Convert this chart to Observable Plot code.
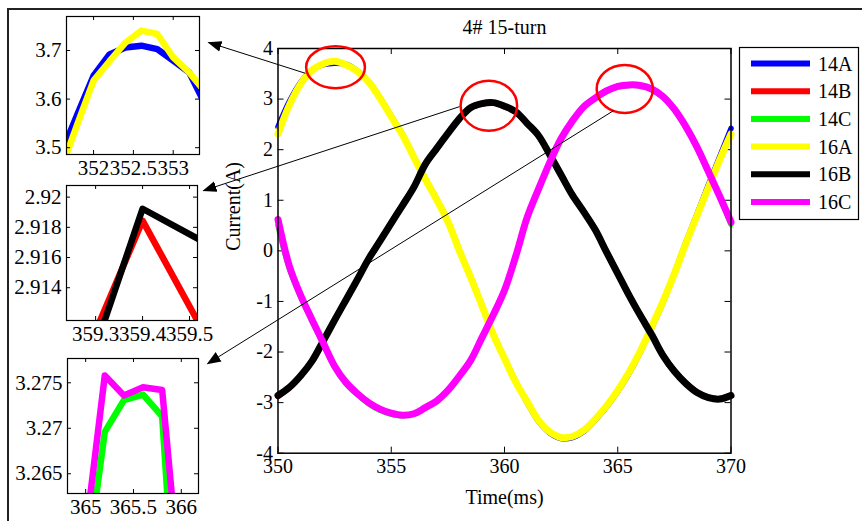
<!DOCTYPE html>
<html><head><meta charset="utf-8">
<script src="https://cdn.jsdelivr.net/npm/d3@7"></script>
<script src="https://cdn.jsdelivr.net/npm/@observablehq/plot@0.6"></script>
<style>
html,body{margin:0;padding:0;background:#fff;}
#fig{position:relative;width:862px;height:521px;overflow:hidden;font-family:"Liberation Serif",serif;}
#fig > svg{position:absolute;}
</style></head><body><div id="fig"></div>
<script>
// ---------- main chart data ----------
const time = [350,350.5,351,351.5,352,352.5,353,353.5,354,354.5,355,355.5,356,356.5,357,357.5,358,358.5,359,359.5,360,360.5,361,361.5,362,362.5,363,363.5,364,364.5,365,365.5,366,366.5,367,367.5,368,368.5,369,369.5,370];
const s14A = [2.45,2.95,3.33,3.58,3.68,3.71,3.69,3.56,3.35,3.03,2.66,2.30,1.86,1.43,1.03,0.59,0.02,-0.51,-1.07,-1.64,-2.12,-2.59,-3.00,-3.37,-3.60,-3.71,-3.69,-3.57,-3.35,-3.09,-2.78,-2.42,-2.00,-1.52,-1.02,-0.44,0.16,0.73,1.30,1.86,2.42];
const s14B = [-2.88,-2.71,-2.48,-2.17,-1.77,-1.36,-0.96,-0.56,-0.15,0.20,0.56,0.91,1.27,1.70,2.01,2.32,2.60,2.82,2.90,2.92,2.85,2.74,2.51,2.27,1.91,1.51,1.11,0.78,0.43,-0.01,-0.44,-0.87,-1.27,-1.65,-2.06,-2.37,-2.61,-2.79,-2.89,-2.92,-2.85];
const s14C = [0.50,-0.35,-0.90,-1.38,-1.84,-2.30,-2.62,-2.84,-3.02,-3.15,-3.23,-3.26,-3.23,-3.11,-2.98,-2.77,-2.49,-2.18,-1.73,-1.28,-0.79,-0.12,0.64,1.21,1.74,2.21,2.56,2.84,3.01,3.15,3.24,3.27,3.26,3.19,3.04,2.79,2.45,2.04,1.56,1.07,0.52];
const s16A = [2.31,2.88,3.30,3.57,3.70,3.75,3.68,3.55,3.34,3.02,2.65,2.29,1.85,1.42,1.02,0.58,0.01,-0.52,-1.08,-1.65,-2.13,-2.60,-2.98,-3.35,-3.58,-3.69,-3.67,-3.55,-3.33,-3.07,-2.76,-2.40,-1.98,-1.50,-1.00,-0.45,0.14,0.70,1.25,1.80,2.31];
const s16B = [-2.86,-2.70,-2.47,-2.18,-1.78,-1.37,-0.97,-0.57,-0.16,0.19,0.55,0.90,1.26,1.71,2.02,2.32,2.61,2.83,2.91,2.93,2.86,2.75,2.52,2.28,1.90,1.50,1.10,0.77,0.42,-0.02,-0.45,-0.88,-1.28,-1.66,-2.07,-2.38,-2.62,-2.80,-2.90,-2.93,-2.86];
const s16C = [0.62,-0.30,-0.88,-1.36,-1.82,-2.28,-2.60,-2.82,-3.00,-3.13,-3.21,-3.25,-3.22,-3.10,-2.97,-2.76,-2.48,-2.17,-1.72,-1.27,-0.78,-0.10,0.66,1.22,1.75,2.22,2.57,2.85,3.02,3.16,3.25,3.28,3.27,3.20,3.05,2.80,2.46,2.05,1.57,1.08,0.57];
const seriesNames = ["14A","14B","14C","16A","16B","16C"];
const seriesColors = ["#0000ff","#ff0000","#00ff00","#ffff00","#000000","#ff00ff"];
const mainValues = [s14A,s14B,s14C,s16A,s16B,s16C];
const xTicks = [350,355,360,365,370];
const yTicks = [-4,-3,-2,-1,0,1,2,3,4];
const titleText = "4# 15-turn";
const xLabel = "Time(ms)";
const yLabel = "Current(A)";

// ---------- inset data ----------
const in1Time = [351.6,351.8,352.0,352.2,352.4,352.6,352.8,353.0,353.2,353.4];
const in1_14A = [3.49,3.57,3.648,3.692,3.706,3.71,3.703,3.679,3.655,3.59];
const in1_16A = [3.46,3.55,3.638,3.678,3.716,3.741,3.734,3.686,3.655,3.615];
const in1XTicks = [352,352.5,353];
const in1YTicks = [3.5,3.6,3.7];

const in2Time = [359.2,359.4,359.6];
const in2_14B = [2.9038,2.91844,2.9071];
const in2_16B = [2.9009,2.91923,2.91586];
const in2XTicks = [359.3,359.4,359.5];
const in2YTicks = [2.914,2.916,2.918,2.92];

const in3Time = [365.0,365.2,365.4,365.6,365.8,366.0];
const in3_14C = [3.2540,3.2696,3.2731,3.2737,3.2713,3.2393];
const in3_16C = [3.2585,3.2758,3.2736,3.2745,3.2742,3.2515];
const in3XTicks = [365,365.5,366];
const in3YTicks = [3.265,3.27,3.275];

// ---------- annotations (data coordinates of the main chart) ----------
const circleX = [352.54,359.31,365.31];
const circleY = [3.63,2.87,3.20];
const arrowFromX = [351.21,358.01,364.81];
const arrowFromY = [3.51,2.85,2.77];
const arrowToX = [346.93,346.71,346.89];
const arrowToY = [4.12,1.19,-2.23];

// ---------- layout ----------
const W = 862, H = 521;
const M = {left: 277.5, top: 48, right: 131.5, bottom: 68.3};
const innerW = W - M.left - M.right, innerH = H - M.top - M.bottom;
const TK = 6;
const FONT = "Liberation Serif";
const fmt = d => String(+(+d).toFixed(4));

const rows = seriesNames.flatMap((name, i) => time.map((t, j) => ({name, t, v: mainValues[i][j]})));
const thinRows = rows.filter(d => d.name.startsWith("14"));
const thickRows = rows.filter(d => d.name.startsWith("16"));

const ellipseSymbol = (aspect) => ({draw(ctx, size) {
  const ry = Math.sqrt(size / Math.PI), rx = ry * aspect, k = 0.5523;
  ctx.moveTo(rx, 0);
  ctx.bezierCurveTo(rx, k*ry, k*rx, ry, 0, ry);
  ctx.bezierCurveTo(-k*rx, ry, -rx, k*ry, -rx, 0);
  ctx.bezierCurveTo(-rx, -k*ry, -k*rx, -ry, 0, -ry);
  ctx.bezierCurveTo(k*rx, -ry, rx, -k*ry, rx, 0);
  ctx.closePath();
}});
const circleRy = [21, 25, 24];
const circleAspect = [1.4, 1.13, 1.17];
const circles = circleX.map((x, i) => ({x, y: circleY[i], i}));
const arrows = arrowFromX.map((x, i) => ({x1: x, y1: arrowFromY[i], x2: arrowToX[i], y2: arrowToY[i]}));

const main = Plot.plot({
  width: W, height: H,
  marginLeft: M.left, marginTop: M.top, marginRight: M.right, marginBottom: M.bottom,
  style: {fontFamily: FONT, fontSize: "20px", background: "white", color: "black"},
  x: {domain: [350, 370]},
  y: {domain: [-4, 4]},
  color: {domain: seriesNames, range: seriesColors},
  marks: [
    Plot.ruleX(xTicks, {insetTop: innerH - TK, stroke: "black"}),
    Plot.ruleX(xTicks, {insetBottom: innerH - TK, stroke: "black"}),
    Plot.ruleY(yTicks, {insetRight: innerW - TK, stroke: "black"}),
    Plot.ruleY(yTicks, {insetLeft: innerW - TK, stroke: "black"}),
    Plot.axisX({ticks: xTicks, tickSize: 0, tickPadding: 6, label: null, tickFormat: fmt}),
    Plot.axisY({ticks: yTicks, tickSize: 0, tickPadding: 5, label: null, tickFormat: fmt}),
    Plot.line(thinRows, {x: "t", y: "v", z: "name", stroke: "name", strokeWidth: 5.5, curve: "catmull-rom"}),
    Plot.line(thickRows, {x: "t", y: "v", z: "name", stroke: "name", strokeWidth: 7, curve: "catmull-rom"}),
    Plot.frame({stroke: "black", strokeWidth: 1.5}),
    ...circles.map(c => Plot.dot([c], {x: "x", y: "y", r: circleRy[c.i], symbol: ellipseSymbol(circleAspect[c.i]), stroke: "#ff0000", strokeWidth: 2.5, fill: "none"})),
    Plot.link(arrows, {x1: "x1", y1: "y1", x2: "x2", y2: "y2", stroke: "black", strokeWidth: 1}),
    Plot.text([titleText], {text: d => d, frameAnchor: "top", lineAnchor: "middle", dy: -21}),
    Plot.text([xLabel], {text: d => d, frameAnchor: "bottom", lineAnchor: "middle", dy: 44}),
    Plot.text([yLabel], {text: d => d, frameAnchor: "left", lineAnchor: "middle", dx: -44.5, rotate: -90})
  ]
});
main.style.left = "0px"; main.style.top = "0px";
{
  const svg = d3.select(main);
  const mk = svg.append("defs").append("marker")
    .attr("id", "ahead").attr("viewBox", "0 -6 14 12").attr("refX", 13).attr("refY", 0)
    .attr("markerWidth", 14).attr("markerHeight", 12).attr("markerUnits", "userSpaceOnUse").attr("orient", "auto");
  mk.append("path").attr("d", "M0,-5.5L14,0L0,5.5Z").attr("fill", "black");
  svg.selectAll('g[aria-label="link"] path').attr("marker-end", "url(#ahead)");
}
const fig = document.getElementById("fig");
fig.appendChild(main);

// ---------- insets ----------
function inset({left, top, fw, fh, xDomain, yDomain, xt, yt, t, a, b, names}) {
  const mT = 10, mB = 35, mR = 16;
  const data = [...t.map((x, j) => ({name: names[0], t: x, v: a[j]})), ...t.map((x, j) => ({name: names[1], t: x, v: b[j]}))];
  const p = Plot.plot({
    width: left + fw + mR, height: fh + mT + mB,
    marginLeft: left, marginTop: mT, marginRight: mR, marginBottom: mB,
    style: {fontFamily: FONT, fontSize: "21px", background: "transparent", color: "black"},
    x: {domain: xDomain}, y: {domain: yDomain},
    color: {domain: seriesNames, range: seriesColors},
    marks: [
      Plot.line(data.filter(d => d.name === names[0]), {x: "t", y: "v", stroke: "name", strokeWidth: 6.5, clip: true}),
      Plot.line(data.filter(d => d.name === names[1]), {x: "t", y: "v", stroke: "name", strokeWidth: 6.5, clip: true}),
      Plot.ruleX(xt, {insetTop: fh - 4, stroke: "black"}),
      Plot.ruleX(xt, {insetBottom: fh - 4, stroke: "black"}),
      Plot.ruleY(yt, {insetRight: fw - 4, stroke: "black"}),
      Plot.ruleY(yt, {insetLeft: fw - 4, stroke: "black"}),
      Plot.axisX({ticks: xt, tickSize: 0, tickPadding: 6, label: null, tickFormat: fmt}),
      Plot.axisY({ticks: yt, tickSize: 0, tickPadding: 5, label: null, tickFormat: fmt}),
      Plot.frame({stroke: "black", strokeWidth: 1.2})
    ]
  });
  p.style.left = "0px"; p.style.top = (top - mT) + "px";
  fig.appendChild(p);
}
inset({left: 66, top: 16, fw: 133, fh: 138, xDomain: [351.66, 353.33], yDomain: [3.486, 3.77], xt: in1XTicks, yt: in1YTicks, t: in1Time, a: in1_14A, b: in1_16A, names: ["14A", "16A"]});
inset({left: 66, top: 185, fw: 131, fh: 135, xDomain: [359.238, 359.517], yDomain: [2.91183, 2.92077], xt: in2XTicks, yt: in2YTicks, t: in2Time, a: in2_14B, b: in2_16B, names: ["14B", "16B"]});
inset({left: 67, top: 358, fw: 131, fh: 135, xDomain: [364.81, 366.18], yDomain: [3.26283, 3.27767], xt: in3XTicks, yt: in3YTicks, t: in3Time, a: in3_14C, b: in3_16C, names: ["14C", "16C"]});

// ---------- legend and outer frame ----------
const ov = d3.create("svg").attr("width", W).attr("height", H).style("left", "0px").style("top", "0px");
ov.append("path").attr("d", "M8,521V9H862").attr("fill", "none").attr("stroke", "#222").attr("stroke-width", 2);
const lg = ov.append("g").attr("transform", "translate(739.5,47.5)");
lg.append("rect").attr("width", 119).attr("height", 172).attr("fill", "white").attr("stroke", "black").attr("stroke-width", 1.2);
seriesNames.forEach((n, i) => {
  const y = 16 + i * 27.7;
  lg.append("line").attr("x1", 11.5).attr("x2", 70.5).attr("y1", y).attr("y2", y).attr("stroke", seriesColors[i]).attr("stroke-width", 6);
  lg.append("text").attr("x", 78.5).attr("y", y + 7).attr("font-family", FONT).attr("font-size", 20).text(n);
});
fig.appendChild(ov.node());
</script></body></html>
